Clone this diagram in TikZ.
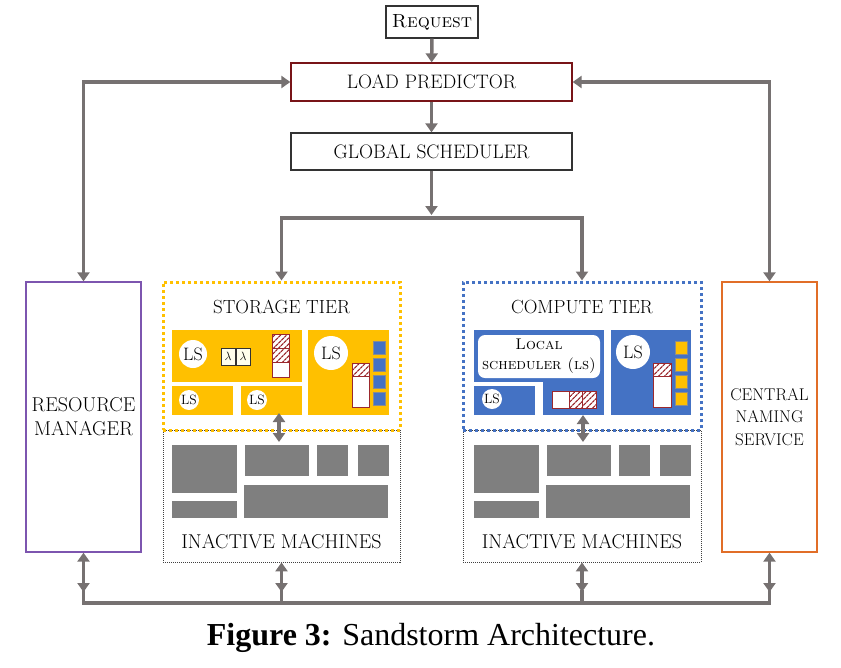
\documentclass[tikz,border=0pt]{standalone}
\usepackage{fontspec}
\newfontfamily\capfont{Liberation Serif}
\usetikzlibrary{arrows.meta,patterns.meta}
\definecolor{agray}{RGB}{118,113,113}
\definecolor{lpred}{RGB}{120,20,24}
\definecolor{rmpurple}{RGB}{125,85,175}
\definecolor{cnsorange}{RGB}{225,110,40}
\definecolor{tyellow}{RGB}{255,192,0}
\definecolor{tblue}{RGB}{68,114,196}
\definecolor{mgray}{RGB}{127,127,127}
\definecolor{hatchred}{RGB}{155,40,45}
\begin{document}
\begin{tikzpicture}[x=1pt,y=-1pt,
 font=\fontsize{19.5}{22}\selectfont,
 conn/.style={draw=agray,line width=3.5pt,-{Triangle[width=12pt,length=9pt]}},
 dconn/.style={draw=agray,line width=3.5pt,{Triangle[width=12pt,length=9pt]}-{Triangle[width=12pt,length=9pt]}},
 busline/.style={draw=agray,line width=3.5pt},
 tbox/.style={draw=#1,line width=1.3pt,fill=white,inner sep=0pt,align=center},
 tierbox/.style={draw=#1,line width=3pt,dash pattern=on 3pt off 3pt,inner sep=0pt},
 idlebox/.style={draw=black!75,line width=0.8pt,dash pattern=on 1pt off 1pt,inner sep=0pt},
 hatchcell/.style={draw=hatchred,line width=0.9pt,preaction={fill=white},pattern={Lines[angle=45,distance=4pt,line width=1.3pt]},pattern color=hatchred},
 whitecell/.style={draw=hatchred,line width=0.9pt,fill=white},
 sqcell/.style={draw=black!45,line width=0.6pt,fill=#1},
 lsc/.style={circle,fill=white,inner sep=0pt,minimum size=#1},
 bigls/.style={font=\fontsize{18}{20}\selectfont},
 smallfont/.style={font=\fontsize{13.5}{15}\selectfont},
 lambox/.style={draw=black!80,line width=0.8pt,fill=yellow!8,inner sep=0pt,minimum width=14pt,minimum height=17pt,font=\fontsize{12}{14}\selectfont},
]
\useasboundingbox (0,0) rectangle (841,667);

% top boxes
\node[tbox=black!80,minimum width=92pt,minimum height=32pt,font=\fontsize{19}{22}\selectfont] (req) at (432,22) {\textsc{Request}};
\node[tbox=lpred,minimum width=281pt,minimum height=38pt] (lp) at (431.5,82) {LOAD PREDICTOR};
\node[tbox=black!80,minimum width=281pt,minimum height=37pt] (gs) at (431.5,151.5) {GLOBAL SCHEDULER};

% side boxes
\node[tbox=rmpurple,minimum width=115pt,minimum height=270pt,font=\fontsize{20}{24}\selectfont] (rm) at (83.5,417) {RESOURCE\\MANAGER};
\node[tbox=cnsorange,minimum width=95pt,minimum height=270pt,font=\fontsize{17}{22.5}\selectfont] (cns) at (769.5,417) {CENTRAL\\NAMING\\SERVICE};

% inactive machine boxes
\node[idlebox,minimum width=237pt,minimum height=132pt] (si) at (281.5,496) {};
\node[idlebox,minimum width=238pt,minimum height=132pt] (ci) at (582,496) {};
\foreach \dx in {0,302}{
 \begin{scope}[xshift=\dx pt]
 \fill[mgray] (172,445) rectangle (237,493);
 \fill[mgray] (172,501) rectangle (237,518);
 \fill[mgray] (245,445) rectangle (309,476);
 \fill[mgray] (317,445) rectangle (348,476);
 \fill[mgray] (358,445) rectangle (389,476);
 \fill[mgray] (244,485) rectangle (388,518);
 \end{scope}
}
\node[font=\fontsize{20}{22}\selectfont] (sil) at (281.5,542) {INACTIVE MACHINES};
\node[font=\fontsize{20}{22}\selectfont] (cil) at (582,542) {INACTIVE MACHINES};

% tiers
\node[tierbox=tyellow,minimum width=237pt,minimum height=148pt] (st) at (281.5,356) {};
\node[tierbox=tblue,minimum width=238pt,minimum height=148pt] (ct) at (582,356) {};
\node[font=\fontsize{19}{21}\selectfont] (stt) at (281.5,307) {STORAGE TIER};
\node[font=\fontsize{19}{21}\selectfont] (ctt) at (582,307) {COMPUTE TIER};

% storage tier content
\fill[tyellow] (172,330) rectangle (302,382);
\fill[tyellow] (172,386) rectangle (233,415);
\fill[tyellow] (241,386) rectangle (302,415);
\fill[tyellow] (308,330) rectangle (389,415);
\node[lsc=28pt,bigls] (sls1) at (193,354) {LS};
\node[lsc=20pt,smallfont] (sls2) at (189,400) {LS};
\node[lsc=20pt,smallfont] (sls3) at (257,400) {LS};
\node[lsc=34pt,bigls] (sls4) at (331,353) {LS};
\node[lambox] (lam1) at (228,356.5) {$\lambda$};
\node[lambox] (lam2) at (243,356.5) {$\lambda$};
\draw[hatchcell] (272,334) rectangle (289,348);
\draw[hatchcell] (272,348) rectangle (289,362);
\draw[whitecell] (272,362) rectangle (289,377);
\draw[hatchcell] (352,363) rectangle (369,376);
\draw[whitecell] (352,376) rectangle (369,407);
\foreach \yy in {341,358,375,392}{
 \draw[sqcell=tblue] (373,\yy) rectangle (385,\yy+13.5);
}

% compute tier content
\fill[tblue] (474,330) rectangle (604,382);
\fill[tblue] (543,378) rectangle (604,415);
\fill[tblue] (474,386) rectangle (535,415);
\fill[tblue] (611,330) rectangle (691,415);
\node[fill=white,rounded corners=7pt,minimum width=122pt,minimum height=43pt,inner sep=0pt,align=center,font=\fontsize{15.5}{20}\selectfont] (lsch) at (539,356.5) {\textsc{Local}\\\textsc{scheduler (ls)}};
\node[lsc=20pt,smallfont] (cls2) at (492,399) {LS};
\node[lsc=34pt,bigls] (cls4) at (633,352) {LS};
\draw[whitecell] (552,391) rectangle (569,408);
\draw[hatchcell] (569,391) rectangle (582,408);
\draw[hatchcell] (582,391) rectangle (596,408);
\draw[hatchcell] (653,363) rectangle (671,376);
\draw[whitecell] (653,376) rectangle (671,407);
\foreach \yy in {341,358,375,392}{
 \draw[sqcell=tyellow] (675,\yy) rectangle (687,\yy+13.5);
}

% connectors top
\draw[conn] (req) -- (lp);
\draw[conn] (lp) -- (gs);
\coordinate (jt) at (431.5,215);
\coordinate (j) at (431.5,218);
\draw[conn] (gs.south) -- (jt);
\draw[conn] (j) -| (st.north);
\draw[conn] (j) -| (ct.north);
\draw[dconn] (rm.north) |- (lp.west);
\draw[dconn] (cns.north) |- (lp.east);

% tier <-> inactive
\coordinate (sa1) at (279,413);
\coordinate (sa2) at (279,442);
\coordinate (ca1) at (583,415);
\coordinate (ca2) at (583,442);
\draw[dconn] (sa1) -- (sa2);
\draw[dconn] (ca1) -- (ca2);

% bottom bus
\coordinate (b1) at (83.5,603);
\coordinate (b2) at (281.5,603);
\coordinate (b3) at (582,603);
\coordinate (b4) at (769.5,603);
\draw[dconn] (rm.south) -- ([yshift=11pt]b1);
\draw[dconn] (si.south) -- ([yshift=11pt]b2);
\draw[dconn] (ci.south) -- ([yshift=11pt]b3);
\draw[dconn] (cns.south) -- ([yshift=11pt]b4);
\draw[busline,line cap=rect] ([yshift=13pt]b1) -- (b1) -- (b4) -- ([yshift=13pt]b4);
\draw[busline] ([yshift=13pt]b2) -- (b2);
\draw[busline] ([yshift=13pt]b3) -- (b3);

% caption
\node[font=\capfont\fontsize{32}{36}\selectfont] (cap) at (431,638) {\textbf{Figure 3:} Sandstorm Architecture.};
\end{tikzpicture}
\end{document}
